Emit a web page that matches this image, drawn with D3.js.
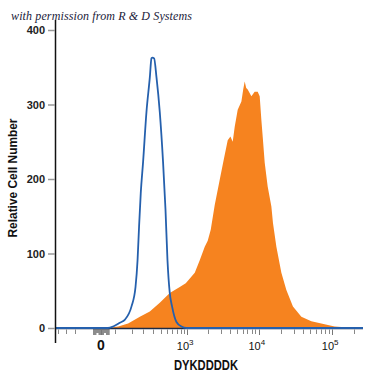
<!DOCTYPE html>
<html>
<head>
<meta charset="utf-8">
<script src="https://cdn.jsdelivr.net/npm/d3@7"></script>
<style>
  body { margin: 0; background: #fff; }
  svg { display: block; }
</style>
</head>
<body>
<svg id="chart" width="375" height="375"></svg>
<script>
// isotype control (blue outline)
var blueIntensity = [-230, 18, 34, 58, 80, 116, 141, 155, 166, 179, 198, 228, 261, 279, 290, 309, 339, 383, 432, 472, 507, 550, 596, 695, 824, 976, 262144];
var blueCount = [0, 0, 2, 7, 11, 29, 55, 91, 136, 181, 223, 290, 336, 362, 363, 362, 336, 290, 223, 159, 91, 47, 29, 8, 2, 0, 0];

// DYKDDDDK stained cells (orange filled)
var orangeIntensity = [18, 52, 97, 172, 261, 383, 550, 778, 953, 1287, 1516, 1785, 1967, 2168, 2466, 2895, 3290, 3738, 4072, 4383, 4670, 5136, 5774, 6113, 6409, 6721, 7049, 7913, 8784, 9655, 10288, 10850, 11304, 12038, 13226, 14854, 15617, 17381, 20333, 23782, 29239, 38059, 52027, 78883, 107892, 147492, 201600];
var orangeCount = [0, 2, 6, 15, 22, 34, 47, 55, 60, 74, 91, 109, 117, 132, 165, 199, 226, 252, 257, 250, 270, 293, 304, 320, 331, 322, 320, 311, 317, 317, 311, 279, 257, 222, 190, 163, 141, 109, 74, 51, 29, 15, 9, 5, 2, 1, 0];

// gray clipped events around zero
var grayBand = [-20, 23];
var grayNotches = [-8, 10];

var yTicks = [0, 100, 200, 300, 400];
var xMajor = [0, 1000, 10000, 100000];
var xMajorLabels = [["0", ""], ["10", "3"], ["10", "4"], ["10", "5"]];
var xMinor = [-200, -140, -90, 40, 120, 200, 300, 400, 500, 600, 700, 800, 900,
  2000, 3000, 4000, 5000, 6000, 7000, 8000, 9000,
  20000, 30000, 40000, 50000, 60000, 70000, 80000, 90000, 200000];

var svg = d3.select("#chart");

var x = d3.scaleSymlog().constant(72).domain([-230, 262144]).range([55, 363]);
var y = d3.scaleLinear().domain([0, 400]).range([328, 30]);

var blue = blueIntensity.map(function(v, i) { return {x: v, y: blueCount[i]}; });
var orange = orangeIntensity.map(function(v, i) { return {x: v, y: orangeCount[i]}; });

// watermark
svg.append("text")
  .attr("x", 11).attr("y", 20)
  .attr("textLength", 181)
  .style("font-family", "'Liberation Serif', 'DejaVu Serif', serif")
  .style("font-style", "italic")
  .style("font-size", "12px")
  .style("fill", "#1b1b3a")
  .text("with permission from R & D Systems");

// orange filled histogram
svg.append("path")
  .datum(orange)
  .attr("d", d3.area().x(function(d) { return x(d.x); }).y0(y(0)).y1(function(d) { return y(d.y); }))
  .style("fill", "#f6831f");

// gray band under the axis
var gx0 = x(grayBand[0]), gx1 = x(grayBand[1]);
svg.append("rect")
  .attr("x", gx0).attr("y", y(0) + 1)
  .attr("width", gx1 - gx0).attr("height", 6)
  .style("fill", "#8c8c8c");
svg.selectAll(".notch").data(grayNotches).enter().append("rect")
  .attr("class", "notch")
  .attr("x", function(d) { return x(d) - 1; }).attr("y", y(0) + 5)
  .attr("width", 2).attr("height", 2)
  .style("fill", "#fff");

// x axis line
svg.append("line")
  .attr("x1", x.range()[0]).attr("x2", x.range()[1])
  .attr("y1", y(0) + 0.5).attr("y2", y(0) + 0.5)
  .style("stroke", "#1d2b45").style("stroke-width", 1.5);

// blue outline histogram
svg.append("path")
  .datum(blue)
  .attr("d", d3.line().x(function(d) { return x(d.x); }).y(function(d) { return y(d.y); }).curve(d3.curveMonotoneX))
  .style("fill", "none")
  .style("stroke", "#2560ad")
  .style("stroke-width", 1.8);

// x ticks
svg.selectAll(".xminor").data(xMinor).enter().append("line")
  .attr("x1", function(d) { return Math.round(x(d)) + 0.5; })
  .attr("x2", function(d) { return Math.round(x(d)) + 0.5; })
  .attr("y1", y(0) + 1.5).attr("y2", y(0) + 6)
  .style("stroke", "#888").style("stroke-width", 1);
svg.selectAll(".xmajor").data(xMajor).enter().append("line")
  .attr("x1", function(d) { return Math.round(x(d)) + 0.5; })
  .attr("x2", function(d) { return Math.round(x(d)) + 0.5; })
  .attr("y1", y(0) + 1.5).attr("y2", y(0) + 7)
  .style("stroke", "#777").style("stroke-width", 1);

var xl = svg.selectAll(".xlab").data(xMajor).enter().append("text")
  .attr("x", function(d, i) { return x(d) + (i === 0 ? 0 : -2); })
  .attr("y", 350)
  .attr("text-anchor", "middle")
  .style("font-family", "'Liberation Sans', Arial, sans-serif")
  .style("fill", "#111")
  .style("font-weight", function(d, i) { return i === 0 ? "bold" : "normal"; })
  .style("font-size", function(d, i) { return i === 0 ? "14px" : "11px"; });
xl.append("tspan").text(function(d, i) { return xMajorLabels[i][0]; });
xl.append("tspan")
  .attr("dy", -5)
  .style("font-size", "8px")
  .text(function(d, i) { return xMajorLabels[i][1]; });

// y axis
svg.append("line")
  .attr("x1", 55.5).attr("x2", 55.5)
  .attr("y1", 20).attr("y2", 343)
  .style("stroke", "#111").style("stroke-width", 1.5);
svg.selectAll(".ytick").data(yTicks).enter().append("line")
  .attr("x1", 48).attr("x2", 55)
  .attr("y1", function(d) { return y(d) + 0.5; })
  .attr("y2", function(d) { return y(d) + 0.5; })
  .style("stroke", "#999").style("stroke-width", 1.5);
svg.selectAll(".ylab").data(yTicks).enter().append("text")
  .attr("x", 45)
  .attr("y", function(d) { return y(d) + 4; })
  .attr("text-anchor", "end")
  .style("font-family", "'Liberation Sans', Arial, sans-serif")
  .style("font-weight", "bold")
  .style("font-size", "11px")
  .style("fill", "#222")
  .text(function(d) { return d; });

// axis titles, squeezed to the narrow face of the original
svg.append("text")
  .attr("transform", "translate(17,178) rotate(-90)")
  .attr("text-anchor", "middle")
  .attr("textLength", 119)
  .attr("lengthAdjust", "spacingAndGlyphs")
  .style("font-family", "'Liberation Sans', Arial, sans-serif")
  .style("font-weight", "bold")
  .style("font-size", "13px")
  .style("fill", "#111")
  .text("Relative Cell Number");

svg.append("text")
  .attr("x", 206).attr("y", 370)
  .attr("text-anchor", "middle")
  .attr("textLength", 64)
  .attr("lengthAdjust", "spacingAndGlyphs")
  .style("font-family", "'Liberation Sans', Arial, sans-serif")
  .style("font-weight", "bold")
  .style("font-size", "14px")
  .style("fill", "#111")
  .text("DYKDDDDK");
</script>
</body>
</html>
